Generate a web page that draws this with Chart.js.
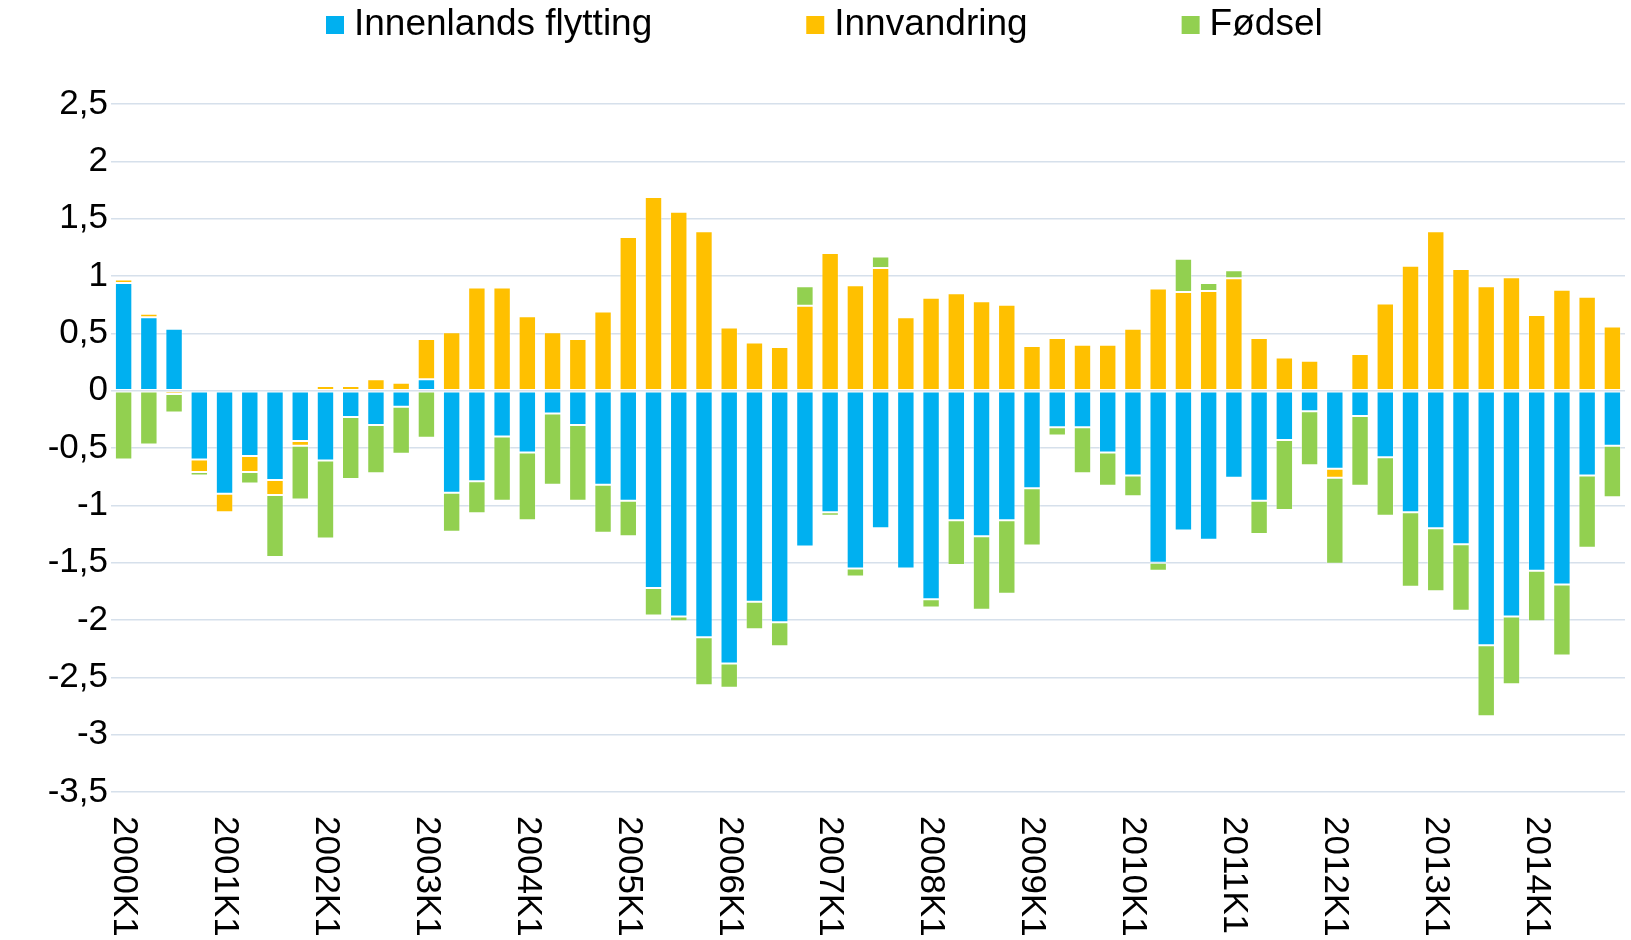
<!DOCTYPE html>
<html>
<head>
<meta charset="utf-8">
<script src="https://cdn.jsdelivr.net/npm/chart.js@4/dist/chart.umd.min.js"></script>
<style>
  html, body { margin: 0; padding: 0; background: #ffffff; }
  #wrap { width: 1631px; height: 940px; position: relative; }
</style>
</head>
<body>
<div id="wrap"><canvas id="c" width="1631" height="940"></canvas></div>
<script>
const categories = [
  '2000K1','2000K2','2000K3','2000K4','2001K1','2001K2','2001K3','2001K4',
  '2002K1','2002K2','2002K3','2002K4','2003K1','2003K2','2003K3','2003K4',
  '2004K1','2004K2','2004K3','2004K4','2005K1','2005K2','2005K3','2005K4',
  '2006K1','2006K2','2006K3','2006K4','2007K1','2007K2','2007K3','2007K4',
  '2008K1','2008K2','2008K3','2008K4','2009K1','2009K2','2009K3','2009K4',
  '2010K1','2010K2','2010K3','2010K4','2011K1','2011K2','2011K3','2011K4',
  '2012K1','2012K2','2012K3','2012K4','2013K1','2013K2','2013K3','2013K4',
  '2014K1','2014K2','2014K3','2014K4'
];

const innenlandsFlytting = [
  0.94, 0.64, 0.54, -0.60, -0.90, -0.57, -0.78, -0.44,
  -0.61, -0.23, -0.30, -0.14, 0.10, -0.89, -0.79, -0.40,
  -0.54, -0.20, -0.30, -0.82, -0.96, -1.72, -1.97, -2.15,
  -2.38, -1.84, -2.02, -1.36, -1.06, -1.55, -1.20, -1.55,
  -1.82, -1.13, -1.27, -1.13, -0.85, -0.32, -0.32, -0.54,
  -0.74, -1.50, -1.22, -1.30, -0.76, -0.96, -0.43, -0.18,
  -0.68, -0.22, -0.58, -1.06, -1.20, -1.34, -2.22, -1.97,
  -1.57, -1.69, -0.74, -0.48
];

const innvandring = [
  0.03, 0.03, -0.03, -0.11, -0.16, -0.14, -0.13, -0.04,
  0.04, 0.04, 0.10, 0.07, 0.35, 0.51, 0.90, 0.90,
  0.65, 0.51, 0.45, 0.69, 1.34, 1.69, 1.56, 1.39,
  0.55, 0.42, 0.38, 0.74, 1.20, 0.92, 1.07, 0.64,
  0.81, 0.85, 0.78, 0.75, 0.39, 0.46, 0.40, 0.40,
  0.54, 0.89, 0.86, 0.87, 0.98, 0.46, 0.29, 0.26,
  -0.08, 0.32, 0.76, 1.09, 1.39, 1.06, 0.91, 0.99,
  0.66, 0.88, 0.82, 0.56
];

const fodsel = [
  -0.60, -0.47, -0.16, -0.03, 0, -0.10, -0.54, -0.47,
  -0.68, -0.54, -0.42, -0.41, -0.41, -0.34, -0.28, -0.56,
  -0.59, -0.62, -0.66, -0.42, -0.31, -0.24, -0.04, -0.42,
  -0.21, -0.24, -0.21, 0.17, -0.03, -0.07, 0.10, 0,
  -0.07, -0.39, -0.64, -0.64, -0.50, -0.07, -0.40, -0.29,
  -0.18, -0.07, 0.29, 0.07, 0.07, -0.29, -0.61, -0.47,
  -0.75, -0.61, -0.51, -0.65, -0.55, -0.58, -0.62, -0.59,
  -0.44, -0.62, -0.63, -0.45
];

const seriesNames = ['Innenlands flytting', 'Innvandring', 'Fødsel'];
const seriesColors = ['#00B0F0', '#FFC000', '#92D050'];
const yMin = -3.5, yMax = 2.5, yStep = 0.5;

const FONT = '"Liberation Sans", Arial, sans-serif';

const customLegend = {
  id: 'customLegend',
  afterDraw(chart) {
    const ctx = chart.ctx;
    ctx.save();
    ctx.font = '37px ' + FONT;
    ctx.textBaseline = 'middle';
    ctx.textAlign = 'left';
    let x = 326;
    const yc = 25;
    chart.data.datasets.forEach(ds => {
      ctx.fillStyle = ds.backgroundColor;
      ctx.fillRect(x, yc - 9, 18, 18);
      ctx.fillStyle = '#000000';
      ctx.fillText(ds.label, x + 28, yc);
      x += 28 + ctx.measureText(ds.label).width + 154;
    });
    ctx.restore();
  }
};

const rotatedXLabels = {
  id: 'rotatedXLabels',
  afterDraw(chart) {
    const xs = chart.scales.x;
    const ctx = chart.ctx;
    ctx.save();
    ctx.font = '35px ' + FONT;
    ctx.fillStyle = '#000000';
    ctx.textAlign = 'left';
    ctx.textBaseline = 'middle';
    chart.data.labels.forEach((lab, i) => {
      if (!lab.endsWith('K1')) return;
      const x = xs.getPixelForValue(i);
      ctx.save();
      ctx.translate(x, xs.top + 24);
      ctx.rotate(Math.PI / 2);
      ctx.fillText(lab, 0, 0);
      ctx.restore();
    });
    ctx.restore();
  }
};

const datasets = [innenlandsFlytting, innvandring, fodsel].map((d, i) => ({
  label: seriesNames[i],
  data: d,
  backgroundColor: seriesColors[i],
  borderColor: 'rgba(255,255,255,0.35)',
  borderWidth: 1,
  borderSkipped: false,
  barPercentage: 0.69,
  categoryPercentage: 1.0
}));

new Chart(document.getElementById('c'), {
  type: 'bar',
  data: { labels: categories, datasets },
  options: {
    responsive: false,
    animation: false,
    layout: { padding: { top: 104, right: 6, left: 0, bottom: 0 } },
    plugins: {
      legend: { display: false },
      tooltip: { enabled: false }
    },
    scales: {
      x: {
        stacked: true,
        grid: { display: false },
        border: { display: false },
        ticks: { display: false },
        afterFit(scale) { scale.height = 148; }
      },
      y: {
        stacked: true,
        min: yMin,
        max: yMax,
        afterFit(scale) { scale.width = 111; },
        ticks: {
          stepSize: yStep,
          padding: 3,
          color: '#000000',
          font: { family: FONT, size: 35 },
          callback: v => String(Math.round(v * 10) / 10).replace('.', ',')
        },
        grid: { color: '#D6E0EB', lineWidth: 1.5, drawTicks: false },
        border: { display: false }
      }
    }
  },
  plugins: [customLegend, rotatedXLabels]
});
</script>
</body>
</html>
